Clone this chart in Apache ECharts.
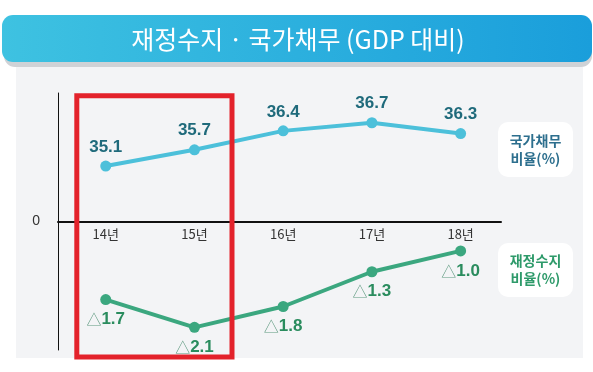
<!DOCTYPE html>
<html><head><meta charset="utf-8">
<script src="https://cdn.jsdelivr.net/npm/echarts@6/dist/echarts.min.js"></script>
<style>html,body{margin:0;padding:0;background:#fff}#c{width:593px;height:372px}</style>
</head><body><div id="c"></div>
<script>
const titleText = '재정수지 · 국가채무 (GDP 대비)';
const categories = ['14년', '15년', '16년', '17년', '18년'];
const debtRatio = [35.1, 35.7, 36.4, 36.7, 36.3];
const balanceRatio = [-1.7, -2.1, -1.8, -1.3, -1.0];
const debtLegend = '국가채무\n비율(%)';
const balanceLegend = '재정수지\n비율(%)';

const FONT = '"Noto Sans CJK KR", "Noto Sans", sans-serif';
const NUMFONT = '"Liberation Sans", Arial, sans-serif';

const chart = echarts.init(document.getElementById('c'), null, {renderer: 'canvas'});
const idx = categories.map((c, i) => i);

chart.setOption({
  animation: false,
  backgroundColor: '#ffffff',
  grid: {left: 58, right: 92, top: 93, bottom: 22, containLabel: false},
  xAxis: {
    type: 'value', min: -0.538, max: 4.455, position: 'bottom', offset: -128.3,
    axisLine: {show: true, onZero: false, lineStyle: {color: '#111', width: 2}},
    axisTick: {show: false},
    splitLine: {show: false},
    axisLabel: {
      customValues: idx,
      formatter: v => categories[Math.round(v)] || '',
      color: '#333', fontSize: 13, fontFamily: FONT, margin: 6
    }
  },
  yAxis: [
    {type: 'value', min: -1, max: 1, position: 'left',
     axisLine: {show: true, onZero: false, lineStyle: {color: '#111', width: 1}},
     axisTick: {show: false}, splitLine: {show: false},
     axisLabel: {customValues: [0], color: '#333', fontSize: 14, fontFamily: NUMFONT, margin: 18, padding: [0, 0, 7, 0]}},
    {type: 'value', min: 28.3, max: 37.8, show: false},
    {type: 'value', min: -2.426, max: 1.272, show: false}
  ],
  series: [
    {
      type: 'line', yAxisIndex: 1,
      data: idx.map(i => [i, debtRatio[i]]),
      symbol: 'circle', symbolSize: 11,
      lineStyle: {color: '#4cc0da', width: 4},
      itemStyle: {color: '#4cc0da'},
      label: {show: true, position: 'top', distance: 5,
        formatter: p => p.value[1].toFixed(1),
        color: '#1f6a7b', fontSize: 17, fontWeight: 'bold', fontFamily: NUMFONT},
      z: 5
    },
    {
      type: 'line', yAxisIndex: 2,
      data: idx.map(i => [i, balanceRatio[i]]),
      symbol: 'circle', symbolSize: 11,
      lineStyle: {color: '#3ba77f', width: 4},
      itemStyle: {color: '#3ba77f'},
      label: {show: true, position: 'bottom', distance: 6,
        formatter: p => '{t|△}{n|' + Math.abs(p.value[1]).toFixed(1) + '}',
        rich: {
          t: {color: '#5f9a80', fontSize: 15, fontFamily: FONT, fontWeight: 'normal'},
          n: {color: '#2a8c5e', fontSize: 17, fontWeight: 'bold', fontFamily: NUMFONT}
        }},
      z: 5
    }
  ],
  graphic: [
    {type: 'rect', z: -10, silent: true, shape: {x: 16, y: 67, width: 567, height: 291}, style: {fill: '#f3f4f6'}},
    {type: 'rect', z: -9, silent: true, shape: {x: 4, y: 20, width: 588, height: 47, r: 11}, style: {fill: '#cfd2d6'}},
    {type: 'rect', z: -8, silent: true, shape: {x: 2, y: 15, width: 590, height: 47, r: 11},
     style: {fill: new echarts.graphic.LinearGradient(0, 0, 1, 0, [{offset: 0, color: '#3ec2e1'}, {offset: 1, color: '#1a9edb'}])}},
    {type: 'text', z: 10, silent: true, x: 298, y: 39,
     style: {text: titleText, fill: '#ffffff', font: '25px ' + FONT, align: 'center', verticalAlign: 'middle'}},
    {type: 'rect', z: 100, silent: true, shape: {x: 76.8, y: 95.7, width: 155.2, height: 261.3},
     style: {fill: 'none', stroke: '#e3222b', lineWidth: 5}},
    {type: 'rect', z: 10, silent: true, shape: {x: 498, y: 122, width: 75, height: 55, r: 10}, style: {fill: '#ffffff'}},
    {type: 'text', z: 11, silent: true, x: 535.5, y: 149.5,
     style: {text: debtLegend, fill: '#2d6f8e', font: 'bold 14px ' + FONT, align: 'center', verticalAlign: 'middle', lineHeight: 18}},
    {type: 'rect', z: 10, silent: true, shape: {x: 498, y: 243, width: 75, height: 54, r: 10}, style: {fill: '#ffffff'}},
    {type: 'text', z: 11, silent: true, x: 535.5, y: 270,
     style: {text: balanceLegend, fill: '#2e9a6a', font: 'bold 14px ' + FONT, align: 'center', verticalAlign: 'middle', lineHeight: 18}}
  ]
});
</script></body></html>
